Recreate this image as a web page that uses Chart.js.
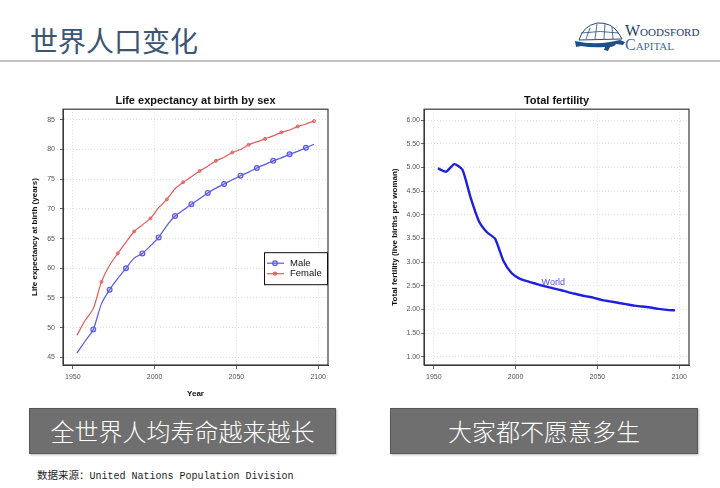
<!DOCTYPE html>
<html>
<head>
<meta charset="utf-8">
<script src="https://cdn.jsdelivr.net/npm/chart.js@4.4.0/dist/chart.umd.min.js"></script>
<style>
body { margin: 0; width: 720px; height: 488px; background: #fff; position: relative; overflow: hidden; font-family: "Noto Sans CJK SC", sans-serif; }
.head { position: absolute; left: 30px; top: 20px; font-size: 28px; color: #3b5573; }
.rule { position: absolute; left: 0; top: 60px; width: 720px; height: 2px; background: #c4c4c4; }
.logo { position: absolute; left: 570px; top: 20px; }
.brand { position: absolute; left: 625px; font-family: "Liberation Serif", serif; font-variant: small-caps; font-size: 16px; line-height: 15px; }
.box { position: absolute; top: 408px; height: 44px; background: #6f6f6f; border: 1px solid #585858; box-shadow: 1px 1px 2px #bbb;
       color: #fff; font-size: 24px; line-height: 44px; text-align: center; font-weight: 300; }
.src { position: absolute; left: 37px; top: 467px; font-size: 10.5px; color: #222; }
.src span { font-family: "Liberation Mono", monospace; font-size: 10px; }
canvas { position: absolute; }
</style>
</head>
<body>
<div class="head">世界人口变化</div>
<div class="rule"></div>
<svg class="logo" width="56" height="32" viewBox="0 0 56 32">
  <path d="M9 20 Q13 6 27 3 Q42 2 49 14 L52 19 Z" fill="none" stroke="#2b4a78" stroke-width="1"/>
  <path d="M16 19 L20 8 M25 19 L27 4 M34 19 L35 4 M43 19 L42 7 M11 13 Q30 10 49 13" fill="none" stroke="#2b4a78" stroke-width="0.8"/>
  <path d="M5 21 Q22 25 40 22 L50 20 L55 22 L53 25 L46 24 Q44 27 40 27 L38 31 L34 30 L35 27 Q22 28 11 26 L6 27 Z" fill="#1f4f86"/>
</svg>
<div class="brand" style="top:23px;color:#253c68">Woodsford</div>
<div class="brand" style="top:37px;color:#3d6aa6">Capital</div>

<canvas id="lifeChart" width="320" height="312" style="left:20px;top:89px"></canvas>
<canvas id="fertChart" width="320" height="312" style="left:380px;top:89px"></canvas>

<div class="box" style="left:29px;width:305px">全世界人均寿命越来越长</div>
<div class="box" style="left:390px;width:306px">大家都不愿意多生</div>
<div class="src">数据来源：<span>United Nations Population Division</span></div>

<script>
// period midpoints (5-year periods)
const years = [1952.5, 1957.5, 1962.5, 1967.5, 1972.5, 1977.5, 1982.5, 1987.5, 1992.5, 1997.5,
               2002.5, 2007.5, 2012.5, 2017.5, 2022.5, 2027.5, 2032.5, 2037.5, 2042.5, 2047.5,
               2052.5, 2057.5, 2062.5, 2067.5, 2072.5, 2077.5, 2082.5, 2087.5, 2092.5, 2097.5];
const male = [45.7, 47.7, 49.7, 54.0, 56.4, 58.3, 60.0, 61.7, 62.5, 63.8,
              65.2, 67.2, 68.8, 69.8, 70.8, 71.7, 72.7, 73.5, 74.2, 74.9,
              75.6, 76.2, 76.9, 77.5, 78.1, 78.6, 79.2, 79.7, 80.3, 80.9];
const female = [48.7, 51.2, 53.2, 57.7, 60.5, 62.5, 64.4, 66.2, 67.3, 68.4,
                70.2, 71.6, 73.4, 74.5, 75.4, 76.4, 77.2, 78.1, 78.7, 79.5,
                80.0, 80.8, 81.3, 81.8, 82.3, 82.9, 83.3, 83.9, 84.3, 84.8];
const fertility = [4.98, 4.91, 5.07, 4.95, 4.36, 3.87, 3.63, 3.49, 3.03, 2.77,
                   2.65, 2.59, 2.54, 2.49, 2.45, 2.41, 2.36, 2.32, 2.28, 2.25,
                   2.20, 2.17, 2.14, 2.11, 2.08, 2.06, 2.04, 2.01, 1.99, 1.98];

const yearTicks = [1950, 2000, 2050, 2100];
const lifeTicks = [45, 50, 55, 60, 65, 70, 75, 80, 85];
const fertTicks = [1.0, 1.5, 2.0, 2.5, 3.0, 3.5, 4.0, 4.5, 5.0, 5.5, 6.0];

Chart.defaults.font.family = '"Liberation Sans", Arial, sans-serif';
Chart.defaults.animation = false;

const pts = arr => years.map((y, i) => ({ x: y, y: arr[i] }));

// plot box drawn round the chart area
const frame = {
    id: 'frame',
    afterDraw(chart) {
        const { ctx, chartArea: a } = chart;
        ctx.save();
        ctx.strokeStyle = '#3a3a3a';
        ctx.lineWidth = 1.2;
        ctx.strokeRect(a.left, a.top, a.right - a.left, a.bottom - a.top);
        ctx.restore();
    }
};

function xAxis(title) {
    return {
        type: 'linear', min: 1944, max: 2106,
        afterBuildTicks: s => { s.ticks = yearTicks.map(v => ({ value: v })); },
        afterFit: s => { s.height = 36; },
        ticks: { font: { size: 7 }, color: '#555', padding: 4, callback: v => v },
        grid: { color: '#e0e0e0', tickLength: 4, tickColor: '#666' },
        border: { dash: [1, 2], color: '#3a3a3a' },
        title: { display: !!title, text: title, font: { size: 8, weight: 'bold' }, color: '#111', padding: { top: 0, bottom: 2 } }
    };
}

function yAxis(min, max, tickVals, width, title, fmt, pad) {
    return {
        min: min, max: max,
        afterBuildTicks: s => { s.ticks = tickVals.map(v => ({ value: v })); },
        afterFit: s => { s.width = width; },
        ticks: { font: { size: 7 }, color: '#555', padding: pad, callback: fmt },
        grid: { color: '#e0e0e0', tickLength: 3, tickColor: '#666' },
        border: { dash: [1, 2], color: '#3a3a3a' },
        title: { display: true, text: title, font: { size: 8, weight: 'bold' }, color: '#111', padding: { top: 10, bottom: 0 } }
    };
}

function titleOpts(text) {
    return { display: true, text: text, fullSize: false, color: '#111',
             font: { size: 11, weight: 'bold' }, padding: { top: 5, bottom: 2 } };
}

// legend box inside the plot
const lifeLegend = {
    id: 'lifeLegend',
    afterDraw(chart) {
        const { ctx, chartArea: a } = chart;
        const x0 = a.right - 64, y0 = a.top + 143;
        ctx.save();
        ctx.fillStyle = '#fff';
        ctx.fillRect(x0, y0, 63, 32);
        ctx.strokeStyle = '#111';
        ctx.lineWidth = 1;
        ctx.strokeRect(x0 + 0.5, y0 + 0.5, 63, 32);
        chart.data.datasets.forEach((ds, i) => {
            const yy = y0 + 11 + i * 10.5;
            ctx.strokeStyle = ds.borderColor;
            ctx.lineWidth = 1.2;
            ctx.beginPath(); ctx.moveTo(x0 + 3, yy); ctx.lineTo(x0 + 20, yy); ctx.stroke();
            ctx.fillStyle = ds.pointBackgroundColor;
            ctx.beginPath(); ctx.arc(x0 + 11, yy, i === 0 ? 2.3 : 1.5, 0, Math.PI * 2);
            ctx.fill(); ctx.stroke();
            ctx.fillStyle = '#111';
            ctx.font = '9.5px "Liberation Sans", Arial';
            ctx.textBaseline = 'middle';
            ctx.fillText(ds.label, x0 + 26, yy);
        });
        ctx.restore();
    }
};

new Chart(document.getElementById('lifeChart'), {
    type: 'line',
    data: {
        datasets: [
            {
                label: 'Male', data: pts(male),
                borderColor: '#5a5ae6', borderWidth: 1.2, tension: 0.25,
                pointStyle: 'circle', pointBackgroundColor: 'rgba(90,90,230,0.2)', pointBorderColor: '#5a5ae6',
                pointBorderWidth: 1.2,
                pointRadius: c => (c.dataIndex > 0 && c.dataIndex % 2 === 0) ? 2.4 : 0
            },
            {
                label: 'Female', data: pts(female),
                borderColor: '#e85a5a', borderWidth: 1.2, tension: 0.25,
                pointStyle: 'circle', pointBackgroundColor: 'rgba(232,90,90,0.3)', pointBorderColor: '#e06060',
                pointBorderWidth: 1,
                pointRadius: c => (c.dataIndex > 1 && c.dataIndex % 2 === 1) ? 1.5 : 0
            }
        ]
    },
    options: {
        responsive: false,
        layout: { padding: { left: 0, right: 12, top: 0, bottom: 0 } },
        plugins: { legend: { display: false }, tooltip: { enabled: false }, title: titleOpts('Life expectancy at birth by sex') },
        scales: {
            x: xAxis('Year'),
            y: yAxis(43.7, 86.8, lifeTicks, 43, 'Life expectancy at birth (years)', v => v, 5)
        }
    },
    plugins: [frame, lifeLegend]
});

// series label written next to the line
const worldLabel = {
    id: 'worldLabel',
    afterDatasetsDraw(chart) {
        const { ctx, scales } = chart;
        ctx.save();
        ctx.fillStyle = '#5050e6';
        ctx.font = '9px "Liberation Sans", Arial';
        ctx.textAlign = 'center';
        ctx.textBaseline = 'middle';
        ctx.fillText('World', scales.x.getPixelForValue(2023), scales.y.getPixelForValue(2.56));
        ctx.restore();
    }
};

new Chart(document.getElementById('fertChart'), {
    type: 'line',
    data: {
        datasets: [{
            label: 'World', data: pts(fertility),
            borderColor: '#1f1fe0', borderWidth: 2.4, tension: 0.2, pointRadius: 0
        }]
    },
    options: {
        responsive: false,
        layout: { padding: { left: 0, right: 11, top: 0, bottom: 0 } },
        plugins: { legend: { display: false }, tooltip: { enabled: false }, title: titleOpts('Total fertility') },
        scales: {
            x: xAxis(''),
            y: yAxis(0.825, 6.23, fertTicks, 44, 'Total fertility (live births per woman)', v => v.toFixed(2), 1)
        }
    },
    plugins: [frame, worldLabel]
});
</script>
</body>
</html>
